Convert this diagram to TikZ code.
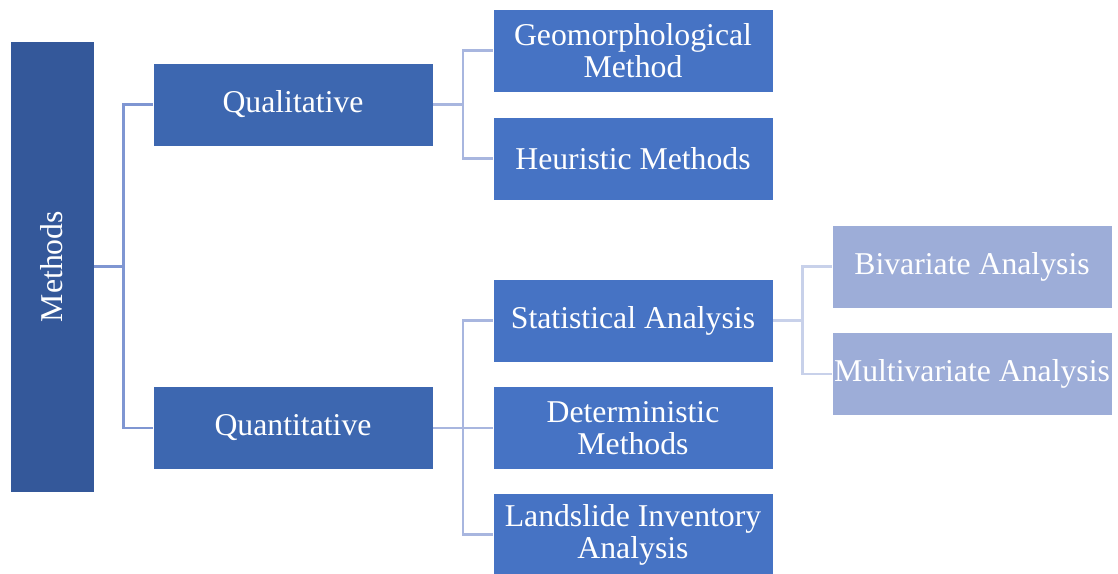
\documentclass[tikz,border=0pt]{standalone}
\usepackage{fontspec}
\setmainfont{Liberation Serif}
\usetikzlibrary{calc}
\definecolor{cA}{HTML}{34589A}
\definecolor{cB}{HTML}{3D67B0}
\definecolor{cC}{HTML}{4673C4}
\definecolor{cD}{HTML}{9DADD8}
\definecolor{lA}{HTML}{7F96D2}
\definecolor{lB}{HTML}{A8B6DF}
\definecolor{lC}{HTML}{C8D1EA}
\tikzset{
  box/.style={rectangle, draw=white, line width=0.6pt, text=white, align=center,
    inner sep=0pt, font=\fontsize{23.8}{24}\selectfont,
    minimum width=210pt, minimum height=62.25pt},
  conn/.style={line width=1.9pt}
}
\begin{document}
\begin{tikzpicture}[x=0.75pt,y=-0.75pt]
\useasboundingbox (0,0) rectangle (1118,574);
\node[box, fill=cA, minimum width=63pt, minimum height=338.25pt] (m) at (52,266.5) {};
\node[text=white, font=\fontsize{23.8}{24}\selectfont, rotate=90] (mt) at (m.center) {Methods};
\node[box, fill=cB] (ql) at (293,104.5) {Qualitative};
\node[box, fill=cB] (qn) at (293,428) {Quantitative};
\node[box, fill=cC] (geo) at (633,50.5) {Geomorphological\\Method};
\node[box, fill=cC] (heu) at (633,158.5) {Heuristic Methods};
\node[box, fill=cC] (sta) at (633,320.5) {Statistical Analysis};
\node[box, fill=cC] (det) at (633,428) {Deterministic\\Methods};
\node[box, fill=cC] (lan) at (633,534.5) {Landslide Inventory\\Analysis};
\node[box, fill=cD] (biv) at (972,266.5) {Bivariate Analysis};
\node[box, fill=cD] (mul) at (972,374) {Multivariate Analysis};
\coordinate (j1) at (123.5,266.5);
\coordinate (j2) at (463,104.5);
\coordinate (j3) at (463,428);
\coordinate (j4) at (802.5,320.5);
\draw[conn, lA] (m.east) -- (j1);
\draw[conn, lA] (ql.west) -| (j1) |- (qn.west);
\draw[conn, lB] (ql.east) -- (j2);
\draw[conn, lB] (geo.west) -| (j2) |- (heu.west);
\draw[conn, lB] (qn.east) -- (j3);
\draw[conn, lB] (sta.west) -| (j3) |- (lan.west);
\draw[conn, lB] (j3) -- (det.west);
\draw[conn, lC] (sta.east) -- (j4);
\draw[conn, lC] (biv.west) -| (j4) |- (mul.west);
\end{tikzpicture}
\end{document}
